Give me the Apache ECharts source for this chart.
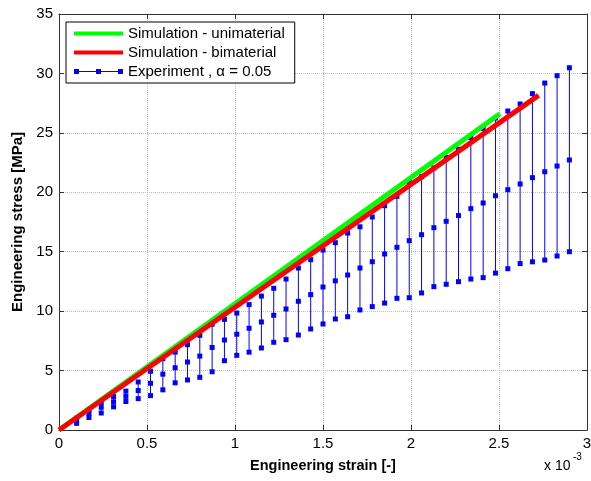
<!DOCTYPE html>
<html>
<head>
<meta charset="utf-8">
<script src="https://cdn.jsdelivr.net/npm/echarts@6/dist/echarts.min.js"></script>
<style>
  html, body { margin: 0; padding: 0; background: #fff; }
  #mychart { width: 591px; height: 481px; }
</style>
</head>
<body>
<div id="mychart"></div>
<script>
// strain in units of 1e-3, stress in MPa
var uniStrain = [0, 2.505]
var uniStress = [0, 26.6]
var biStrain = [0, 2.725]
var biStress = [0, 28.15]

var expStrain = [0.10, 0.17, 0.24, 0.31, 0.38, 0.45, 0.52, 0.59, 0.66, 0.73,
  0.80, 0.87, 0.94, 1.01, 1.08, 1.15, 1.22, 1.29, 1.36, 1.43,
  1.50, 1.57, 1.64, 1.71, 1.78, 1.85, 1.92, 1.99, 2.06, 2.13,
  2.20, 2.27, 2.34, 2.41, 2.48, 2.55, 2.62, 2.69, 2.76, 2.83, 2.90]
var expLow = [0.56, 1.05, 1.43, 1.95, 2.40, 2.64, 2.89, 3.38, 3.97, 4.21,
  4.43, 4.90, 5.83, 6.28, 6.55, 6.90, 7.38, 7.60, 7.99, 8.50,
  8.92, 9.34, 9.53, 10.10, 10.38, 10.68, 11.08, 11.13, 11.53, 12.06,
  12.26, 12.48, 12.70, 12.82, 13.20, 13.57, 14.00, 14.15, 14.30, 14.64, 15.00]
var expMid = [0.78, 1.40, 1.91, 2.37, 2.83, 3.32, 3.93, 4.70, 5.24, 5.72,
  6.22, 6.94, 7.57, 8.06, 8.56, 9.09, 9.65, 10.18, 10.83, 11.39,
  12.03, 12.55, 13.04, 13.63, 14.16, 14.81, 15.37, 15.93, 16.43, 17.02,
  17.56, 18.04, 18.62, 19.10, 19.71, 20.22, 20.70, 21.23, 21.73, 22.21, 22.72]
var expHigh = [1.00, 1.65, 2.30, 2.82, 3.27, 4.04, 4.94, 6.00, 6.55, 7.18,
  7.97, 8.90, 9.31, 9.84, 10.55, 11.27, 11.92, 12.70, 13.63, 14.33,
  15.14, 15.76, 16.57, 17.10, 17.92, 18.87, 19.66, 20.84, 21.31, 22.05,
  22.94, 23.62, 24.60, 25.38, 26.25, 26.84, 27.43, 28.30, 29.19, 29.81, 30.48]

var seriesNames = ['Simulation - unimaterial', 'Simulation - bimaterial', 'Experiment , α = 0.05']

var font = "'Liberation Sans', Arial, sans-serif"

function pairs(xs, ys) {
  return xs.map(function (x, i) { return [x, ys[i]] })
}

var expData = expStrain.map(function (x, i) {
  return [x, expLow[i], expMid[i], expHigh[i]]
})

function renderBar(params, api) {
  var x = api.value(0)
  var pLow = api.coord([x, api.value(1)])
  var pMid = api.coord([x, api.value(2)])
  var pHigh = api.coord([x, api.value(3)])
  var s = 5
  var sq = function (p) {
    return { type: 'rect', shape: { x: p[0] - s / 2, y: p[1] - s / 2, width: s, height: s }, style: { fill: '#0000ff' } }
  }
  return {
    type: 'group',
    children: [
      { type: 'line', shape: { x1: pLow[0], y1: pLow[1], x2: pHigh[0], y2: pHigh[1] }, style: { stroke: '#0000ff', lineWidth: 1 } },
      sq(pLow), sq(pMid), sq(pHigh)
    ]
  }
}

var axisCommon = {
  axisLine: { show: true, onZero: false, lineStyle: { color: '#333', width: 1 } },
  axisTick: { show: true, inside: true, length: 5, lineStyle: { color: '#333' } }
}

var chartDom = document.getElementById('mychart')
var myChart = echarts.init(chartDom, null, { renderer: 'canvas' })
var option = {
  animation: false,
  textStyle: { fontFamily: font },
  grid: { left: 59, right: 4, top: 14, bottom: 51, outerBoundsMode: 'none', containLabel: false },
  legend: {
    orient: 'vertical',
    left: 66,
    top: 22,
    padding: [4, 10, 4, 8],
    itemGap: 4,
    itemWidth: 49,
    itemHeight: 14,
    backgroundColor: '#fff',
    borderColor: '#000',
    borderWidth: 1,
    borderRadius: 0,
    textStyle: { fontSize: 15, color: '#000', fontFamily: font },
    data: [
      { name: seriesNames[0], icon: 'path://M0,0h49v4h-49z' },
      { name: seriesNames[1], icon: 'path://M0,0h49v4h-49z' },
      { name: seriesNames[2], icon: 'path://M0,6.5h49v1h-49z M0,4.5h5v5h-5z M22,4.5h5v5h-5z M44,4.5h5v5h-5z' }
    ]
  },
  xAxis: [
    Object.assign({
      type: 'value', min: 0, max: 3, interval: 0.5,
      name: 'Engineering strain [-]', nameLocation: 'middle', nameGap: 28,
      nameTextStyle: { fontSize: 14.5, fontWeight: 'bold', color: '#000' },
      axisLabel: { fontSize: 15, color: '#000', margin: 6 },
      splitLine: { show: true, lineStyle: { type: 'dotted', color: '#bdbdbd', width: 1 } }
    }, axisCommon),
    Object.assign({
      type: 'value', min: 0, max: 3, interval: 0.5, position: 'top',
      axisLabel: { show: false },
      splitLine: { show: false }
    }, axisCommon)
  ],
  yAxis: [
    Object.assign({
      type: 'value', min: 0, max: 35, interval: 5,
      name: 'Engineering stress [MPa]', nameLocation: 'middle', nameGap: 31,
      nameTextStyle: { fontSize: 15, fontWeight: 'bold', color: '#000' },
      axisLabel: { fontSize: 15, color: '#000', margin: 6 },
      splitLine: { show: true, lineStyle: { type: 'dotted', color: '#bdbdbd', width: 1 } }
    }, axisCommon),
    Object.assign({
      type: 'value', min: 0, max: 35, interval: 5, position: 'right',
      axisLabel: { show: false },
      splitLine: { show: false }
    }, axisCommon)
  ],
  graphic: [
    { type: 'text', left: 544, top: 459, style: { text: 'x 10', font: '14px ' + font, fill: '#000' } },
    { type: 'text', left: 573, top: 452, style: { text: '-3', font: '10px ' + font, fill: '#000' } }
  ],
  series: [
    {
      name: seriesNames[2],
      type: 'custom',
      renderItem: renderBar,
      itemStyle: { color: '#0000ff' },
      encode: { x: 0, y: [1, 2, 3] },
      data: expData,
      z: 2
    },
    {
      name: seriesNames[0],
      type: 'line',
      symbol: 'none',
      color: '#00ff00',
      lineStyle: { color: '#00ff00', width: 5 },
      data: pairs(uniStrain, uniStress),
      z: 3
    },
    {
      name: seriesNames[1],
      type: 'line',
      symbol: 'none',
      color: '#ff0000',
      lineStyle: { color: '#ff0000', width: 5 },
      data: pairs(biStrain, biStress),
      z: 4
    }
  ]
}
myChart.setOption(option)
</script>
</body>
</html>
